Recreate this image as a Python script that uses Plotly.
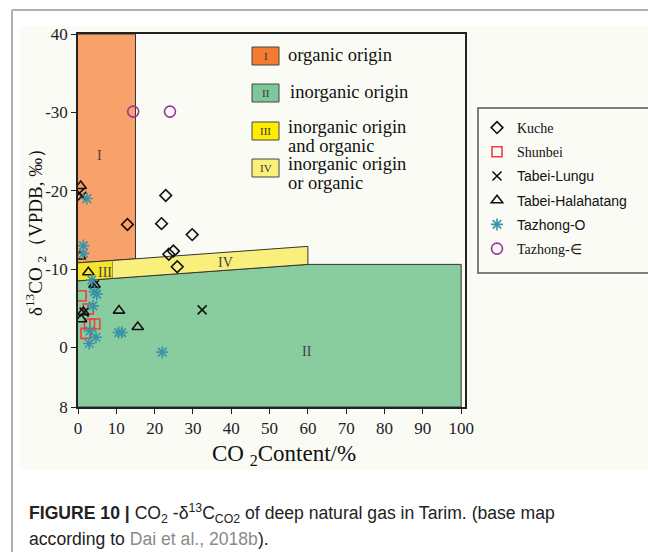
import plotly.graph_objects as go

W, H = 648, 552

# ---------------- data ----------------
x_ticks = [0, 10, 20, 30, 40, 50, 60, 70, 80, 90, 100]
y_tickvals = [-40, -30, -20, -10, 0, 7.6]
y_ticktext = ["40", "-30", "-20", "-10", "0", "8"]

# region polygons (CO2 %, d13C)
reg1_x = [0, 15, 15, 0]
reg1_y = [-40, -40, -11.3, -10.8]
reg3_x = [0, 9, 9, 0]
reg3_y = [-10.8, -11.1, -8.8, -8.5]
reg4_x = [9, 60, 60, 9]
reg4_y = [-11.1, -12.9, -10.6, -8.8]
reg2_x = [0, 60, 100, 100, 0]
reg2_y = [-8.5, -10.6, -10.6, 7.6, 7.6]

kuche_x = [22.9, 12.9, 21.8, 29.8, 23.7, 24.9, 25.9]
kuche_y = [-19.4, -15.7, -15.8, -14.4, -11.9, -12.3, -10.3]

shunbei_x = [0.8, 2.7, 3.0, 4.4, 2.1]
shunbei_y = [-6.6, -4.9, -3.0, -3.0, -1.8]

lungu_x = [0.4, 1.0, 4.3, 1.6, 32.4]
lungu_y = [-19.7, -19.3, -8.0, -4.5, -4.8]

hala_x = [0.7, 0.5, 2.7, 4.3, 1.4, 0.8, 10.7, 15.6]
hala_y = [-20.6, -11.6, -9.6, -8.0, -4.5, -3.6, -4.7, -2.6]

tzo_x = [2.3, 1.4, 1.4, 3.6, 4.3, 4.9, 3.9, 3.1, 4.7, 2.9, 10.6, 11.4, 22.0]
tzo_y = [-19.0, -13.0, -12.0, -8.6, -7.1, -6.8, -5.3, -2.1, -1.3, -0.5, -1.9, -1.9, 0.6]

tzc_x = [14.4, 24.0]
tzc_y = [-30.1, -30.1]

SERIF = "Liberation Serif, Times New Roman, serif"
SANS = "Liberation Sans, Arial, sans-serif"


def px(x):
    return x / W


def py(y):
    return 1 - y / H


fig = go.Figure()

# region polygons
for xs, ys, col in [(reg2_x, reg2_y, "#88cc9f"), (reg1_x, reg1_y, "#f9a16b"),
                    (reg3_x, reg3_y, "#f4e52a"), (reg4_x, reg4_y, "#f9ef7c")]:
    fig.add_trace(go.Scatter(x=xs, y=ys, fill="toself", fillcolor=col, mode="lines",
                             line=dict(color="#333333", width=1), showlegend=False,
                             hoverinfo="skip"))


def ser(name):
    return f"<span style='font-family:{SERIF}'>{name}</span>"


series = [
    (kuche_x, kuche_y, ser("Kuche"), "diamond-open", 9, "#111111"),
    (shunbei_x, shunbei_y, ser("Shunbei"), "square-open", 10, "#ee4040"),
    (lungu_x, lungu_y, "Tabei-Lungu", "x-thin-open", 9, "#111111"),
    (hala_x, hala_y, "Tabei-Halahatang", "triangle-up-open", 10, "#111111"),
    (tzo_x, tzo_y, "Tazhong-O", "asterisk-open", 10, "#3a94a8"),
    (tzc_x, tzc_y, ser("Tazhong-∈"), "circle-open", 11, "#993399"),
]
for i, (xs, ys, name, sym, size, col) in enumerate(series):
    fig.add_trace(go.Scatter(x=xs, y=ys, mode="markers", name=name, legendgroup=f"g{i}",
                             marker=dict(symbol=sym, size=size, color=col,
                                         line=dict(color=col, width=1.6))))

shapes = []
# outer frame decorations
shapes.append(dict(type="rect", xref="paper", yref="paper", x0=px(20), x1=1, y0=py(470), y1=py(26),
                   fillcolor="#fbfbf6", line=dict(width=0), layer="below"))
shapes.append(dict(type="line", xref="paper", yref="paper", x0=px(12), x1=px(12), y0=0, y1=py(10),
                   line=dict(color="#b0b0b0", width=2)))
shapes.append(dict(type="line", xref="paper", yref="paper", x0=px(12), x1=1, y0=py(10), y1=py(10),
                   line=dict(color="#b0b0b0", width=2)))
# symbol legend box
shapes.append(dict(type="rect", xref="paper", yref="paper", x0=px(478), x1=px(650), y0=py(273), y1=py(108),
                   line=dict(color="#555555", width=1.5), fillcolor="rgba(0,0,0,0)"))

annotations = []


def ann(x, y, text, size, family=SERIF, color="#111111", xanchor="center", **kw):
    annotations.append(dict(xref="paper", yref="paper", x=px(x), y=py(y), text=text, showarrow=False,
                            xanchor=xanchor, yanchor="middle",
                            font=dict(family=family, size=size, color=color), **kw))


# region legend swatches
reg_leg = [("I", "#f47b30", 56, ["organic origin"]),
           ("II", "#7dc79a", 93, ["inorganic origin"]),
           ("III", "#ffec00", 131, ["inorganic origin", "and organic"]),
           ("IV", "#fbf07a", 168, ["inorganic origin", "or organic"])]
for lab, col, yc, lines in reg_leg:
    shapes.append(dict(type="rect", xref="paper", yref="paper", x0=px(252), x1=px(279),
                       y0=py(yc + 9), y1=py(yc - 9), fillcolor=col, line=dict(color="#444444", width=1)))
    ann(265.5, yc, lab, 11, color="#333333")
    if len(lines) == 1:
        ann(286 if lab == "I" else 288, yc - 1, lines[0], 18.5, xanchor="left")
    else:
        ann(286, yc - 4, lines[0], 18.5, xanchor="left")
        ann(286, yc + 15, lines[1], 18.5, xanchor="left")

# region labels in plot
for t, x, y in [("I", 5.7, -24.5), ("II", 59.7, 0.5), ("III", 7.0, -9.6), ("IV", 38.4, -10.8)]:
    annotations.append(dict(x=x, y=y, text=t, showarrow=False,
                            font=dict(family=SERIF, size=14, color="#444444")))

# axis titles
ann(284, 455, "CO <sub>2</sub>Content/%", 23)
ann(35, 228, "δ<sup>13</sup>CO <sub>2</sub>（VPDB, ‰）", 19, textangle=-90)

# caption
ann(27, 513, "<b>FIGURE 10 |</b> CO<sub>2</sub> -δ<sup>13</sup>C<sub>CO2</sub> of deep natural gas in Tarim. (base map",
    17.6, family=SANS, color="#222222", xanchor="left")
ann(27, 539, "according to <span style='color:#8a8a8a'>Dai et al., 2018b</span>).",
    17.6, family=SANS, color="#222222", xanchor="left")

fig.update_layout(
    width=W, height=H,
    margin=dict(l=0, r=0, t=0, b=0, autoexpand=False),
    paper_bgcolor="white",
    plot_bgcolor="#fefefe",
    shapes=shapes,
    annotations=annotations,
    legend=dict(x=px(477), y=py(112), xanchor="left", yanchor="top",
                bgcolor="rgba(0,0,0,0)", borderwidth=0,
                font=dict(family=SANS, size=14, color="#111111"),
                traceorder="grouped", tracegroupgap=3, itemwidth=30),
    xaxis=dict(domain=[px(78), px(465)], range=[0, 101], tickvals=x_ticks,
               showgrid=False, zeroline=False, showline=True, linecolor="#222222", linewidth=1.5,
               mirror=True, ticks="outside", ticklen=5, tickcolor="#222222",
               tickfont=dict(family=SERIF, size=17, color="#222222")),
    yaxis=dict(domain=[py(407), py(34)], range=[7.6, -40], tickvals=y_tickvals, ticktext=y_ticktext,
               showgrid=False, zeroline=False, showline=True, linecolor="#222222", linewidth=1.5,
               mirror=True, ticks="outside", ticklen=5, tickcolor="#222222",
               tickfont=dict(family=SERIF, size=17, color="#222222")),
)

post = ("document.body.style.margin='0';document.body.style.padding='0';"
        "document.body.style.overflow='hidden';document.documentElement.style.overflow='hidden';")
fig.write_html("out.html", post_script=post)
